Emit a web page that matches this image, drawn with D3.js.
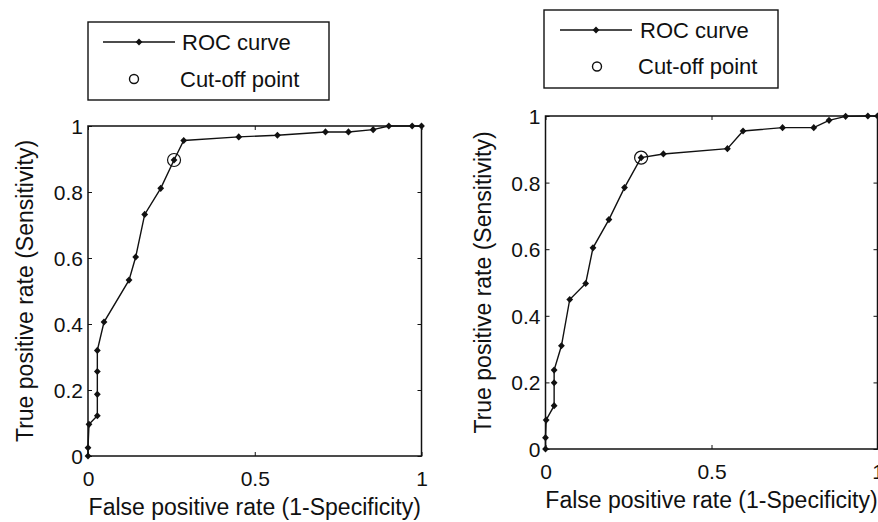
<!DOCTYPE html>
<html>
<head>
<meta charset="utf-8">
<script src="https://cdn.jsdelivr.net/npm/d3@7"></script>
<style>
  html, body { margin: 0; padding: 0; background: #fff; }
  svg { display: block; }
  text { font-family: "Liberation Sans", Arial, sans-serif; fill: #111; }
</style>
</head>
<body>
<svg id="chart" width="878" height="522"></svg>
<script>
// ---- Data ----
const leftFPR  = [0, 0, 0.003, 0.028, 0.028, 0.028, 0.028, 0.048, 0.123, 0.143, 0.170, 0.218, 0.258, 0.287, 0.452, 0.568, 0.712, 0.781, 0.855, 0.902, 0.972, 1.0];
const leftTPR  = [0, 0.025, 0.096, 0.122, 0.187, 0.256, 0.320, 0.406, 0.533, 0.603, 0.732, 0.811, 0.897, 0.956, 0.967, 0.972, 0.982, 0.982, 0.989, 1.0, 1.0, 1.0];
const leftCut  = [0.258, 0.897];

const rightFPR = [0, 0, 0.002, 0.026, 0.026, 0.026, 0.048, 0.073, 0.121, 0.143, 0.191, 0.238, 0.288, 0.355, 0.548, 0.595, 0.714, 0.808, 0.854, 0.904, 0.971, 1.0];
const rightTPR = [0, 0.034, 0.087, 0.130, 0.199, 0.237, 0.310, 0.449, 0.497, 0.604, 0.689, 0.785, 0.875, 0.886, 0.902, 0.955, 0.965, 0.965, 0.987, 0.999, 1.0, 1.0];
const rightCut = [0.288, 0.875];

const xTicks = [0, 0.5, 1];
const yTicks = [0, 0.2, 0.4, 0.6, 0.8, 1];
const xTickLabels = ["0", "0.5", "1"];
const yTickLabels = ["0", "0.2", "0.4", "0.6", "0.8", "1"];
const legendLabels = ["ROC curve", "Cut-off point"];
const xTitle = "False positive rate (1-Specificity)";
const yTitle = "True positive rate (Sensitivity)";

// ---- Layout ----
const panels = [
  { fpr: leftFPR, tpr: leftTPR, cut: leftCut,
    box: { x: 88, y: 126, w: 333.5, h: 330 },
    legend: { x: 88, y: 22, w: 241, h: 78, lineX1: 103, lineX2: 175, row1: 42, row2: 79, symX: 134, textX: 180 } },
  { fpr: rightFPR, tpr: rightTPR, cut: rightCut,
    box: { x: 545.5, y: 116, w: 332, h: 333 },
    legend: { x: 544, y: 10, w: 234, h: 78, lineX1: 560, lineX2: 632, row1: 30, row2: 66.5, symX: 597, textX: 638 } }
];

const svg = d3.select("#chart");
const diamond = "M0,-3.6L3.4,0L0,3.6L-3.4,0Z";

panels.forEach(p => {
  const b = p.box;
  const x = d3.scaleLinear().domain([0, 1]).range([b.x, b.x + b.w]);
  const y = d3.scaleLinear().domain([0, 1]).range([b.y + b.h, b.y]);
  const g = svg.append("g");

  // Axes via d3 axis generators (ticks inside, MATLAB style)
  const fmtX = (d, i) => xTickLabels[i];
  const fmtY = (d, i) => yTickLabels[i];
  const bottom = g.append("g").attr("transform", `translate(0,${b.y + b.h})`)
    .call(d3.axisBottom(x).tickValues(xTicks).tickFormat(fmtX).tickSizeInner(-4).tickSizeOuter(0).tickPadding(0));
  const top = g.append("g").attr("transform", `translate(0,${b.y})`)
    .call(d3.axisTop(x).tickValues(xTicks).tickFormat("").tickSizeInner(-4).tickSizeOuter(0));
  const left = g.append("g").attr("transform", `translate(${b.x},0)`)
    .call(d3.axisLeft(y).tickValues(yTicks).tickFormat(fmtY).tickSizeInner(-4).tickSizeOuter(0).tickPadding(0));
  const right = g.append("g").attr("transform", `translate(${b.x + b.w},0)`)
    .call(d3.axisRight(y).tickValues(yTicks).tickFormat("").tickSizeInner(-4).tickSizeOuter(0));

  [bottom, top, left, right].forEach(a => {
    a.select(".domain").remove();
    a.selectAll(".tick line").attr("stroke", "#111").attr("stroke-width", 1);
  });
  bottom.selectAll(".tick text")
    .attr("y", 30).attr("dy", null)
    .attr("font-size", 21).attr("fill", "#111")
    .style("font-family", '"Liberation Sans", Arial, sans-serif');
  left.selectAll(".tick text")
    .attr("x", -5).attr("dy", "0.36em")
    .attr("font-size", 21).attr("fill", "#111")
    .style("font-family", '"Liberation Sans", Arial, sans-serif');

  // Axes box
  g.append("rect")
    .attr("x", b.x).attr("y", b.y).attr("width", b.w).attr("height", b.h)
    .attr("fill", "none").attr("stroke", "#111").attr("stroke-width", 1.5);

  // Axis titles
  g.append("text")
    .attr("x", b.x + b.w / 2).attr("y", b.y + b.h + 59)
    .attr("text-anchor", "middle").attr("font-size", 23)
    .text(xTitle);
  g.append("text")
    .attr("transform", `translate(${b.x - 55},${b.y + b.h / 2}) rotate(-90)`)
    .attr("text-anchor", "middle").attr("font-size", 23)
    .text(yTitle);

  // ROC curve
  const pts = p.fpr.map((f, i) => [f, p.tpr[i]]);
  g.append("path")
    .datum(pts)
    .attr("fill", "none").attr("stroke", "#111").attr("stroke-width", 1.4)
    .attr("d", d3.line().x(d => x(d[0])).y(d => y(d[1])));
  g.selectAll("path.mk").data(pts).enter().append("path")
    .attr("class", "mk")
    .attr("transform", d => `translate(${x(d[0])},${y(d[1])})`)
    .attr("d", diamond).attr("fill", "#111");

  // Cut-off point
  g.append("circle")
    .attr("cx", x(p.cut[0])).attr("cy", y(p.cut[1])).attr("r", 6.5)
    .attr("fill", "none").attr("stroke", "#111").attr("stroke-width", 1.2);

  // Legend
  const L = p.legend;
  g.append("rect")
    .attr("x", L.x).attr("y", L.y).attr("width", L.w).attr("height", L.h)
    .attr("fill", "#fff").attr("stroke", "#111").attr("stroke-width", 1.4);
  g.append("line")
    .attr("x1", L.lineX1).attr("x2", L.lineX2).attr("y1", L.row1).attr("y2", L.row1)
    .attr("stroke", "#111").attr("stroke-width", 1.4);
  g.append("path")
    .attr("transform", `translate(${(L.lineX1 + L.lineX2) / 2},${L.row1})`)
    .attr("d", diamond).attr("fill", "#111");
  g.append("circle")
    .attr("cx", L.symX).attr("cy", L.row2).attr("r", 4.5)
    .attr("fill", "none").attr("stroke", "#111").attr("stroke-width", 1.4);
  g.append("text").attr("x", L.textX + 2).attr("y", L.row1).attr("dy", "0.36em")
    .attr("font-size", 22).text(legendLabels[0]);
  g.append("text").attr("x", L.textX).attr("y", L.row2).attr("dy", "0.36em")
    .attr("font-size", 22).text(legendLabels[1]);
});
</script>
</body>
</html>
